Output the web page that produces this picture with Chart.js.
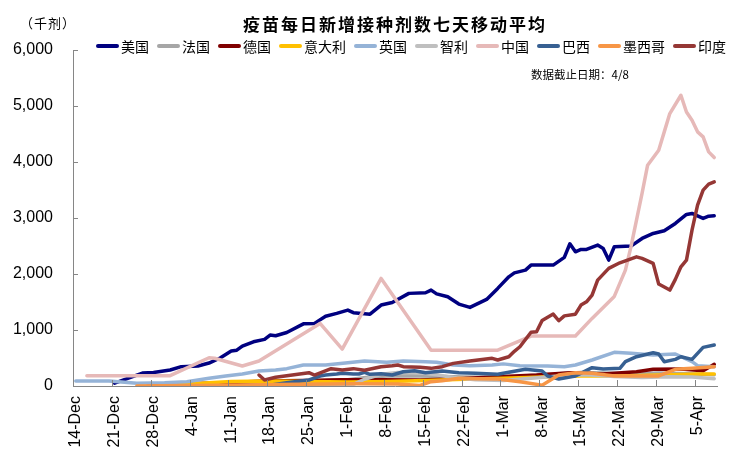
<!DOCTYPE html>
<html>
<head>
<meta charset="utf-8">
<script src="https://cdn.jsdelivr.net/npm/chart.js@4.4.1/dist/chart.umd.min.js"></script>
<style>
  html, body { margin: 0; padding: 0; background: #fff; }
  #wrap { width: 742px; height: 458px; }
</style>
</head>
<body>
<div id="wrap"><canvas id="c" width="742" height="458"></canvas></div>
<script>
// day 0 = 14-Dec, one label per week
const weekLabels = ['14-Dec', '21-Dec', '28-Dec', '4-Jan', '11-Jan', '18-Jan', '25-Jan', '1-Feb',
  '8-Feb', '15-Feb', '22-Feb', '1-Mar', '8-Mar', '15-Mar', '22-Mar', '29-Mar', '5-Apr'];
const yTicks = [0, 1000, 2000, 3000, 4000, 5000, 6000];

// [day, thousand doses]
const usa = [[7,50],[12,230],[14,240],[17,285],[19,345],[22,357],[24,410],[26,500],[28,625],[29,640],
  [30,713],[32,790],[34,833],[35,910],[36,897],[38,955],[41,1110],[43,1118],[45,1245],[47,1297],
  [49,1356],[50,1310],[53,1283],[55,1445],[57,1490],[60,1654],[63,1665],[64,1713],[65,1645],[67,1593],
  [69,1463],[71,1404],[74,1546],[76,1743],[78,1950],[79,2021],[81,2070],[82,2159],[84,2159],[86,2159],
  [88,2296],[89,2540],[90,2396],[91,2439],[92,2439],[94,2516],[95,2457],[96,2248],[97,2486],[100,2498],
  [102,2635],[104,2724],[106,2771],[108,2903],[110,3063],[111,3081],[113,2992],[114,3033],[115,3040]];
const france = [[14,2],[21,10],[28,30],[35,60],[42,85],[49,110],[53,160],[56,180],[60,185],[64,175],
  [70,160],[77,150],[84,200],[91,240],[95,230],[100,215],[105,230],[110,220],[115,200]];
const germany = [[13,10],[20,40],[27,60],[34,90],[41,100],[48,110],[55,110],[62,105],[69,130],[76,166],
  [83,196],[89,237],[95,214],[101,255],[104,298],[109,303],[113,273],[115,387]];
const italy = [[16,5],[20,30],[24,60],[28,80],[35,90],[42,80],[49,70],[56,80],[63,100],[70,120],
  [77,137],[84,160],[91,178],[98,180],[105,196],[112,214],[115,214]];
const uk = [[0,89],[6,89],[11,48],[16,59],[20,77],[24,137],[27,178],[30,214],[33,268],[36,285],
  [38,310],[41,375],[45,375],[49,416],[52,446],[56,423],[59,446],[63,434],[65,423],[68,375],
  [71,363],[75,375],[77,395],[80,363],[85,357],[88,345],[90,375],[93,464],[97,601],[100,583],
  [104,553],[108,571],[111,434],[112,363],[115,345]];
const chile = [[30,2],[45,5],[50,30],[52,120],[55,210],[58,240],[62,235],[65,200],[68,150],[72,110],
  [77,100],[82,140],[87,180],[92,200],[97,170],[102,150],[107,165],[111,160],[115,130]];
const china = [[2,184],[17,184],[24,505],[25,495],[30,357],[33,446],[44,1118],[48,660],[55,1921],[64,640],
  [76,640],[82,892],[90,892],[93,1207],[97,1600],[99,2070],[100,2486],[102,3438],[103,3943],[105,4211],
  [106,4538],[107,4865],[109,5192],[110,4894],[111,4746],[112,4538],[113,4448],[114,4181],[115,4080]];
const brazil = [[34,0],[38,59],[42,107],[44,178],[45,196],[47,214],[48,226],[50,214],[51,214],[52,244],
  [53,208],[55,220],[57,196],[59,255],[61,273],[63,237],[66,268],[69,237],[72,226],[76,210],
  [81,298],[84,268],[85,178],[87,125],[90,178],[93,327],[95,303],[98,315],[99,434],[101,523],
  [104,594],[105,571],[106,434],[108,476],[109,523],[111,476],[113,690],[115,731]];
const mexico = [[11,0],[20,10],[30,20],[40,30],[50,40],[58,35],[62,10],[64,77],[66,95],[69,137],
  [72,130],[76,125],[80,77],[84,15],[87,196],[90,237],[93,226],[97,180],[105,180],[108,298],
  [111,315],[115,345]];
const india = [[33,196],[34,107],[36,155],[39,196],[42,237],[43,196],[46,310],[48,285],[50,310],[52,280],
  [55,345],[57,363],[58,375],[59,345],[62,333],[64,315],[66,345],[68,404],[71,446],[75,494],
  [76,464],[78,523],[79,620],[80,701],[82,960],[83,969],[84,1170],[86,1285],[87,1165],[88,1252],
  [90,1282],[91,1445],[92,1504],[93,1624],[94,1891],[96,2100],[98,2200],[101,2307],[102,2278],[104,2189],
  [105,1820],[107,1713],[108,1904],[109,2129],[110,2248],[111,2783],[112,3229],[113,3497],[114,3604],[115,3645]];

const seriesNames = ['美国', '法国', '德国', '意大利', '英国', '智利', '中国', '巴西', '墨西哥', '印度'];
const seriesColors = ['#000080', '#A6A6A6', '#800000', '#FFC000', '#95B3D7', '#BFBFBF', '#E6B9B8', '#376092', '#F79646', '#953735'];
const seriesData = [usa, france, germany, italy, uk, chile, china, brazil, mexico, india];

const cjk = '"Noto Sans CJK SC", "Noto Sans", sans-serif';
const axisColor = '#868686';

const decorations = {
  id: 'decorations',
  afterDraw(chart) {
    const ctx = chart.ctx;
    const area = chart.chartArea;
    const xs = chart.scales.x, ys = chart.scales.y;
    ctx.save();
    // inward tick marks
    ctx.strokeStyle = axisColor;
    ctx.lineWidth = 1;
    ctx.beginPath();
    yTicks.forEach(v => {
      const py = Math.round(ys.getPixelForValue(v)) + 0.5;
      ctx.moveTo(area.left, py);
      ctx.lineTo(area.left + 5, py);
    });
    weekLabels.forEach((_, i) => {
      const px = Math.round(xs.getPixelForValue(i * 7 - 0.5)) + 0.5;
      ctx.moveTo(px, area.bottom);
      ctx.lineTo(px, area.bottom - 6);
    });
    ctx.stroke();

    // title
    ctx.fillStyle = '#000';
    ctx.textBaseline = 'middle';
    ctx.textAlign = 'center';
    ctx.font = 'bold 17px ' + cjk;
    ctx.letterSpacing = '2px';
    ctx.fillText('疫苗每日新增接种剂数七天移动平均', (area.left + area.right) / 2, 25);

    // unit
    ctx.textAlign = 'left';
    ctx.font = '13px ' + cjk;
    ctx.letterSpacing = '1px';
    ctx.fillText('（千剂）', 20, 23);
    ctx.letterSpacing = '0px';

    // note
    ctx.font = '11.5px ' + cjk;
    ctx.fillText('数据截止日期：4/8', 531, 75);

    // legend
    ctx.font = '14px ' + cjk;
    let x = 97;
    const ly = 46;
    seriesNames.forEach((name, i) => {
      ctx.strokeStyle = seriesColors[i];
      ctx.lineWidth = 4;
      ctx.lineCap = 'round';
      ctx.beginPath();
      ctx.moveTo(x + 1, ly);
      ctx.lineTo(x + 20, ly);
      ctx.stroke();
      ctx.fillStyle = '#000';
      ctx.fillText(name, x + 24, ly + 1);
      x += 24 + ctx.measureText(name).width + 9;
    });
    ctx.restore();
  }
};

new Chart(document.getElementById('c'), {
  type: 'line',
  data: {
    datasets: seriesData.map((d, i) => ({
      label: seriesNames[i],
      data: d.map(([x, y]) => ({ x, y })),
      borderColor: seriesColors[i],
      backgroundColor: seriesColors[i],
      borderWidth: 3.5,
      pointRadius: 0,
      tension: 0,
      borderCapStyle: 'round',
      borderJoinStyle: 'round',
      order: -i
    }))
  },
  options: {
    responsive: false,
    animation: false,
    devicePixelRatio: 1,
    layout: { padding: { top: 50, right: 25, left: 0, bottom: 0 } },
    plugins: {
      legend: { display: false },
      title: { display: false },
      tooltip: { enabled: false }
    },
    scales: {
      x: {
        type: 'linear',
        min: -0.5,
        max: 115.5,
        grid: { display: false, drawTicks: false },
        border: { color: axisColor, width: 1 },
        afterFit: s => { s.height = 72; },
        afterBuildTicks: s => { s.ticks = weekLabels.map((_, i) => ({ value: i * 7 })); },
        ticks: {
          autoSkip: false,
          minRotation: 90,
          maxRotation: 90,
          padding: 10,
          color: '#000',
          font: { family: '"Liberation Sans", Arial, sans-serif', size: 16 },
          callback: v => weekLabels[Math.round(v / 7)]
        }
      },
      y: {
        min: 0,
        max: 6000,
        grid: { display: false, drawTicks: false },
        border: { color: axisColor, width: 1 },
        afterFit: s => { s.width = 73; },
        ticks: {
          stepSize: 1000,
          padding: 20,
          color: '#000',
          font: { family: '"Liberation Sans", Arial, sans-serif', size: 16 },
          callback: v => v.toLocaleString('en-US')
        }
      }
    }
  },
  plugins: [decorations]
});
</script>
</body>
</html>
